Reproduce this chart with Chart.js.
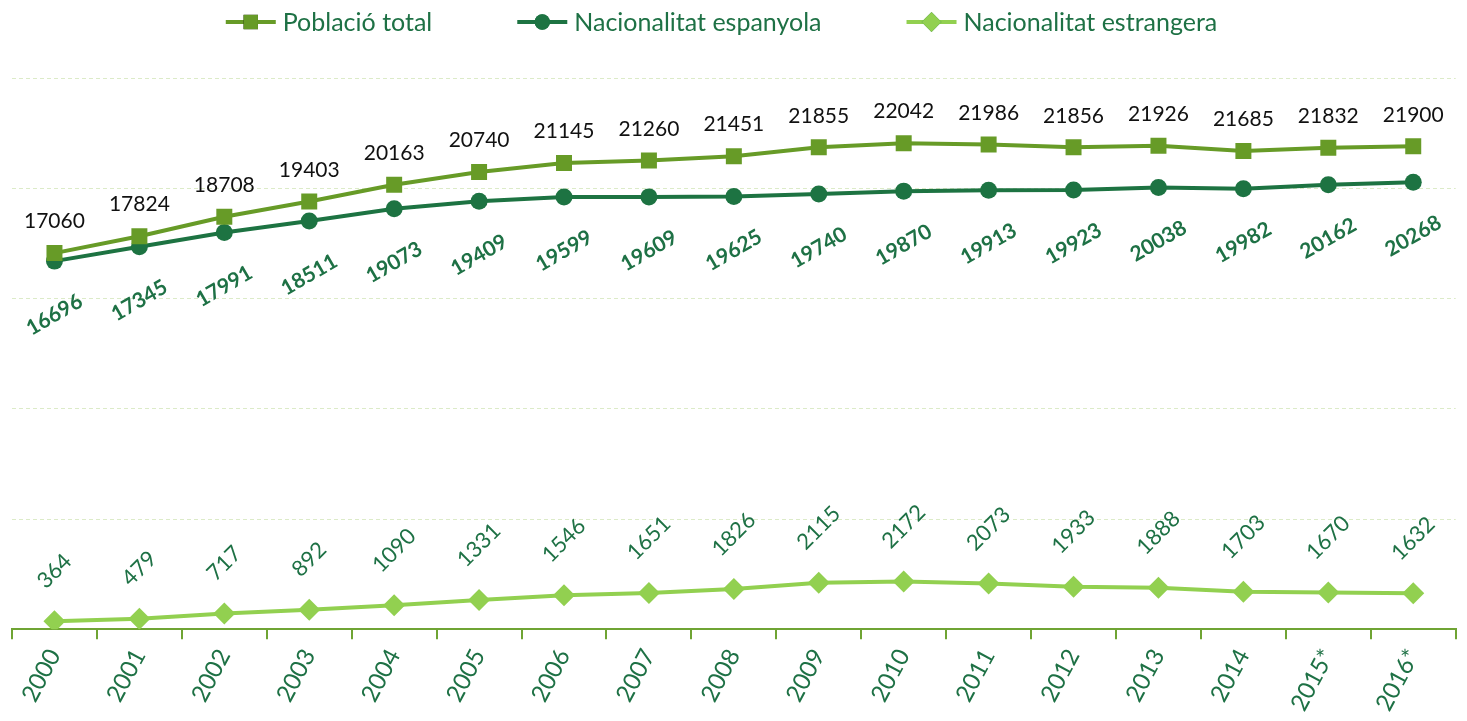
<!DOCTYPE html>
<html>
<head>
<meta charset="utf-8">
<script src="https://cdn.jsdelivr.net/npm/chart.js@4.4.1/dist/chart.umd.min.js"></script>
<style>
  html, body { margin: 0; padding: 0; background: #fff; }
  canvas { display: block; }
</style>
</head>
<body>
<canvas id="chart" width="1467" height="721"></canvas>
<script>
"use strict";

var years = ['2000', '2001', '2002', '2003', '2004', '2005', '2006', '2007', '2008',
  '2009', '2010', '2011', '2012', '2013', '2014', '2015*', '2016*'];
var totalPop = [17060, 17824, 18708, 19403, 20163, 20740, 21145, 21260, 21451,
  21855, 22042, 21986, 21856, 21926, 21685, 21832, 21900];
var spanishPop = [16696, 17345, 17991, 18511, 19073, 19409, 19599, 19609, 19625,
  19740, 19870, 19913, 19923, 20038, 19982, 20162, 20268];
var foreignPop = [364, 479, 717, 892, 1090, 1331, 1546, 1651, 1826,
  2115, 2172, 2073, 1933, 1888, 1703, 1670, 1632];
var yTicks = [0, 5000, 10000, 15000, 20000, 25000];

var FONT = 'Lato, "Open Sans", sans-serif';
var C_TOTAL = '#679b27';
var C_SPAIN = '#1d7342';
var C_FOREIGN = '#92d050';
var C_TEXT = '#1e7145';

// value labels, placed like Excel's: above / below the point, rotated per series
var labelStyles = [
  { color: '#111', weight: 'normal', size: 21, angle: 0, side: -1, gap: 24 },
  { color: C_TEXT, weight: 'bold', size: 21, angle: -30, side: 1, gap: 32 },
  { color: C_TEXT, weight: 'normal', size: 22, angle: -45, side: -1, gap: 31 }
];

var valueLabels = {
  id: 'valueLabels',
  afterDatasetsDraw: function(chart) {
    var ctx = chart.ctx;
    chart.data.datasets.forEach(function(ds, i) {
      var st = labelStyles[i];
      var meta = chart.getDatasetMeta(i);
      ctx.save();
      ctx.font = st.weight + ' ' + st.size + 'px ' + FONT;
      ctx.fillStyle = st.color;
      ctx.textAlign = 'center';
      ctx.textBaseline = 'middle';
      var a = st.angle * Math.PI / 180;
      meta.data.forEach(function(pt, j) {
        var txt = String(ds.data[j]);
        var w = ctx.measureText(txt).width;
        var h = st.size * 0.72;
        var half = (w * Math.abs(Math.sin(a)) + h * Math.abs(Math.cos(a))) / 2;
        var cy = pt.y + st.side * (st.gap + half);
        ctx.save();
        ctx.translate(pt.x, cy);
        ctx.rotate(a);
        ctx.fillText(txt, 0, 0);
        ctx.restore();
      });
      ctx.restore();
    });
  }
};

var topLegend = {
  id: 'topLegend',
  afterDraw: function(chart) {
    var ctx = chart.ctx;
    var y = 22;
    var lineLen = 50;
    var gap = 85;
    ctx.save();
    ctx.font = '25px ' + FONT;
    var items = chart.data.datasets.map(function(ds) {
      return { ds: ds, w: lineLen + 7 + ctx.measureText(ds.label).width };
    });
    var total = items.reduce(function(s, it) { return s + it.w; }, 0) + gap * (items.length - 1);
    var x = chart.width / 2 - total / 2 - 12;
    items.forEach(function(it) {
      var ds = it.ds;
      ctx.strokeStyle = ds.borderColor;
      ctx.lineWidth = 4;
      ctx.beginPath();
      ctx.moveTo(x, y);
      ctx.lineTo(x + lineLen, y);
      ctx.stroke();
      Chart.helpers.drawPoint(ctx, {
        pointStyle: ds.pointStyle,
        radius: ds.pointRadius * 0.9,
        borderWidth: 0
      }, x + lineLen / 2, y);
      ctx.fillStyle = ds.pointBackgroundColor;
      ctx.fill();
      ctx.fillStyle = C_TEXT;
      ctx.textBaseline = 'middle';
      ctx.textAlign = 'left';
      ctx.fillText(ds.label, x + lineLen + 7, y + 1);
      x += it.w + gap;
    });
    ctx.restore();
  }
};

function series(label, data, color, style, radius) {
  return {
    label: label,
    data: data,
    borderColor: color,
    backgroundColor: color,
    pointBackgroundColor: color,
    pointBorderColor: color,
    pointBorderWidth: 0,
    pointStyle: style,
    pointRadius: radius,
    pointHoverRadius: radius,
    borderWidth: 4,
    tension: 0,
    fill: false
  };
}

new Chart(document.getElementById('chart'), {
  type: 'line',
  data: {
    labels: years,
    datasets: [
      series('Població total', totalPop, C_TOTAL, 'rect', 11.3),
      series('Nacionalitat espanyola', spanishPop, C_SPAIN, 'circle', 8.5),
      series('Nacionalitat estrangera', foreignPop, C_FOREIGN, 'rectRot', 11)
    ]
  },
  options: {
    responsive: false,
    animation: false,
    devicePixelRatio: 1,
    layout: { padding: { top: 78, left: 12, right: 0, bottom: 0 } },
    plugins: {
      legend: { display: false },
      tooltip: { enabled: false }
    },
    scales: {
      x: {
        offset: true,
        grid: {
          offset: true,
          drawOnChartArea: false,
          drawTicks: true,
          tickLength: 10,
          color: '#6fa434',
          lineWidth: 2
        },
        border: { color: '#6fa434', width: 2 },
        ticks: {
          color: C_TEXT,
          font: { family: FONT, size: 24 },
          minRotation: 62,
          maxRotation: 62,
          padding: 5,
          autoSkip: false
        }
      },
      y: {
        min: 0,
        max: 25000,
        afterBuildTicks: function(scale) {
          scale.ticks = yTicks.map(function(v) { return { value: v }; });
        },
        ticks: { display: false },
        grid: { color: '#dcebc8', lineWidth: 1, drawTicks: false },
        border: { display: false, dash: [4, 3] }
      }
    }
  },
  plugins: [valueLabels, topLegend]
});
</script>
</body>
</html>
